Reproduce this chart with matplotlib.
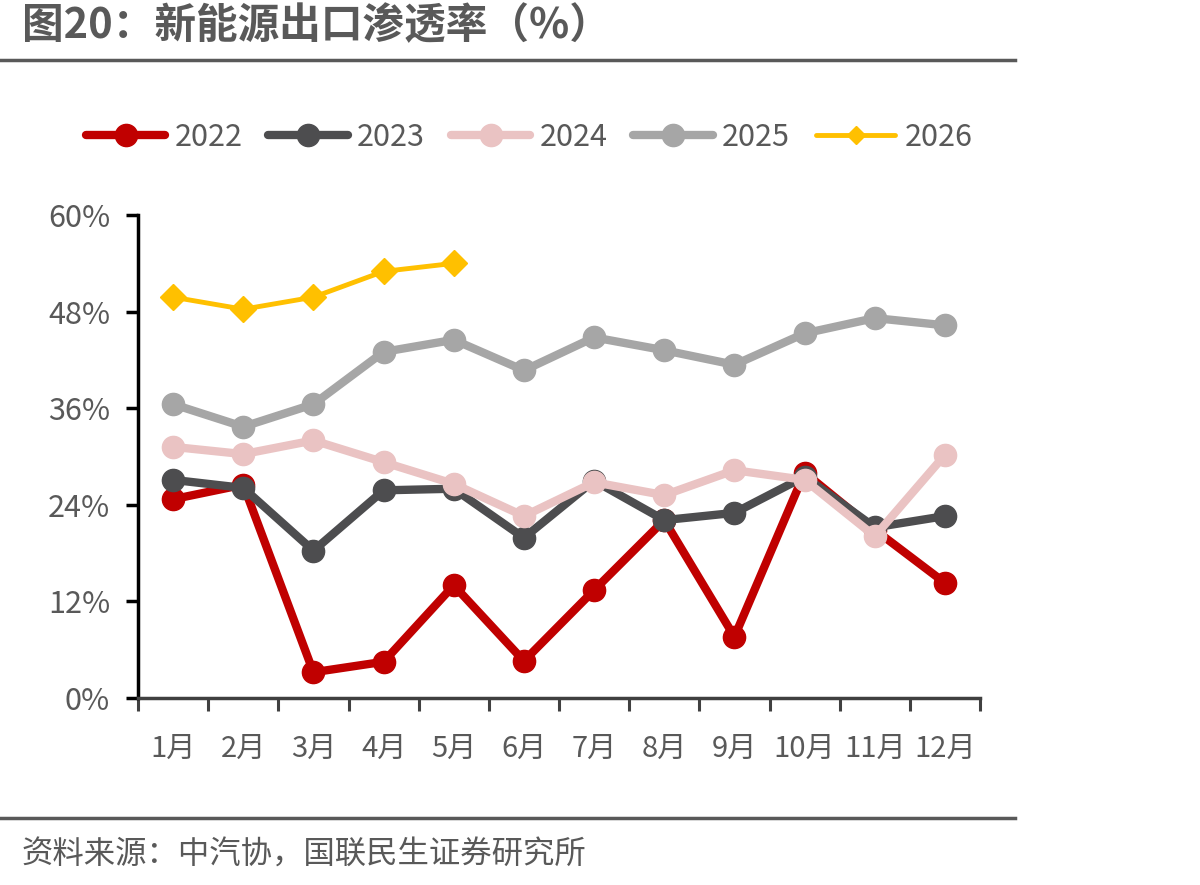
import matplotlib.pyplot as plt
from matplotlib.lines import Line2D
import numpy as np

plt.rcParams['font.family'] = ['Noto Sans CJK SC', 'DejaVu Sans']

# data (percent)
months = ['1月', '2月', '3月', '4月', '5月', '6月', '7月', '8月', '9月', '10月', '11月', '12月']
y2022 = [24.7, 26.5, 3.2, 4.5, 14.0, 4.6, 13.4, 22.1, 7.6, 28.0, 20.9, 14.3]
y2023 = [27.1, 26.1, 18.3, 25.8, 26.0, 19.9, 27.0, 22.1, 23.0, 27.5, 21.2, 22.6]
y2024 = [31.2, 30.3, 32.0, 29.3, 26.6, 22.6, 26.8, 25.2, 28.3, 27.1, 20.1, 30.2]
y2025 = [36.5, 33.7, 36.5, 43.0, 44.5, 40.7, 44.8, 43.2, 41.4, 45.3, 47.2, 46.3]
y2026 = [49.8, 48.3, 49.8, 53.0, 54.0]

text_c = '#595959'

fig = plt.figure(figsize=(12, 8.85), dpi=100)
ax = fig.add_axes([0.115, 0.2113, 0.7017, 0.5457])

x = np.arange(len(months))
series = [
    ('2022', y2022, '#C00000', 'o', 6, 16),
    ('2023', y2023, '#4D4D4F', 'o', 6, 16),
    ('2024', y2024, '#EAC3C3', 'o', 6, 16),
    ('2025', y2025, '#A6A6A6', 'o', 6, 16),
    ('2026', y2026, '#FFC000', 'D', 3.5, 13),
]
handles = []
for name, vals, col, mk, lw, ms in series:
    ax.plot(x[:len(vals)], vals, color=col, lw=lw, marker=mk, ms=ms,
            solid_capstyle='round', solid_joinstyle='round')
    handles.append(Line2D([], [], color=col, lw=lw, marker=mk,
                          ms=ms if mk == 'o' else 9, solid_capstyle='round'))

ax.set_xlim(-0.5, 11.5)
ax.set_ylim(0, 60)
ax.set_yticks([0, 12, 24, 36, 48, 60])
ax.set_yticklabels(['0%', '12%', '24%', '36%', '48%', '60%'])
ax.set_xticks(x)
ax.set_xticklabels(months)
ax.set_xticks(np.arange(-0.5, 12, 1), minor=True)
ax.tick_params(axis='x', which='major', length=0, pad=26, labelsize=21, labelcolor=text_c)
ax.tick_params(axis='x', which='minor', length=9, width=2.2, color='#404040', direction='out')
ax.tick_params(axis='y', length=9, width=2.5, color='black', labelsize=22, labelcolor=text_c, pad=11)

for s in ['top', 'right']:
    ax.spines[s].set_visible(False)
ax.spines['left'].set_color('black')
ax.spines['left'].set_linewidth(2.5)
ax.spines['bottom'].set_color('#404040')
ax.spines['bottom'].set_linewidth(2.5)

fig.legend(handles, [s[0] for s in series], loc='center', bbox_to_anchor=(0.441, 0.845),
           ncol=5, frameon=False, fontsize=22, labelcolor=text_c, handlelength=2.6,
           columnspacing=0.85, handletextpad=0.3)

# title, rules and source
fig.text(0.018, 0.971, '图20：新能源出口渗透率（%）', fontsize=30, fontweight='bold',
         color=text_c, va='center', ha='left')
fig.add_artist(Line2D([0, 0.846], [0.932, 0.932], color='#595959', lw=2.5))
fig.add_artist(Line2D([0, 0.846], [0.076, 0.076], color='#595959', lw=2.5))
fig.text(0.018, 0.034, '资料来源：中汽协，国联民生证券研究所', fontsize=22.6,
         color=text_c, va='center', ha='left')

fig.savefig('out.png', dpi=100)
